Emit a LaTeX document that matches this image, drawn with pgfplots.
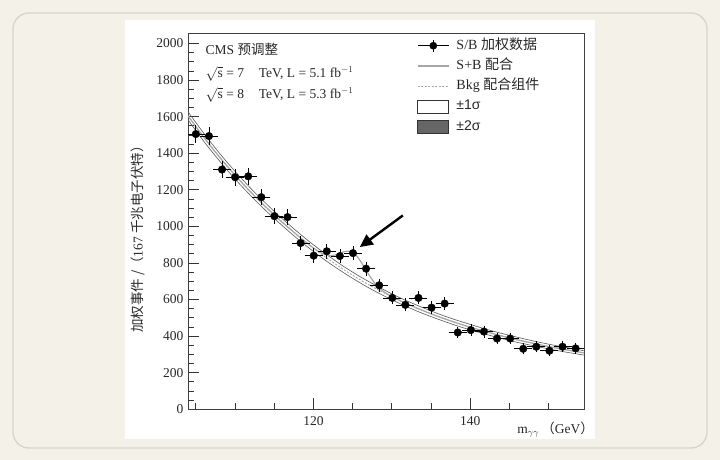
\documentclass[border=0pt]{standalone}
\usepackage{fontspec}
\setmainfont{Liberation Serif}
\newfontfamily\cjk{Noto Sans CJK SC}
\newfontfamily\sansf{Liberation Sans}
\usepackage{pgfplots}
\pgfplotsset{compat=1.18}
\usetikzlibrary{arrows.meta}
\definecolor{bgbeige}{RGB}{244,241,232}
\definecolor{frameline}{RGB}{216,212,200}
\definecolor{txt}{RGB}{40,40,40}
\begin{document}
\begin{tikzpicture}
\fill[bgbeige] (0pt,0pt) rectangle (720pt,460pt);
\draw[frameline, line width=1.3pt, rounded corners=16pt] (13pt,12pt) rectangle (707pt,447pt);
\fill[white] (125pt,21pt) rectangle (595pt,440pt);
\begin{axis}[at={(188pt,50.7pt)}, anchor=south west, scale only axis,
  width=396pt, height=376pt,
  xmin=104, xmax=154.5, ymin=0, ymax=2056,
  xtick={120,140}, minor xtick={105,110,115,125,130,135,145,150},
  ytick={0,200,...,2000}, minor y tick num=3,
  scaled y ticks=false,
  xtick pos=bottom, ytick pos=left, tick align=inside,
  major tick length=11pt, minor tick length=6pt,
  axis line style={black!75, line width=0.8pt},
  tick style={black!80, line width=0.8pt},
  tick label style={font=\fontsize{13.5}{15}\selectfont, text=txt},
  xticklabel style={yshift=-4pt},
  yticklabel style={xshift=-1pt},
  /pgf/number format/assume math mode=true,
  /pgf/number format/1000 sep={},
  legend style={at={(0.578,0.99)}, anchor=north west, draw=none, fill=none,
    font=\fontsize{14}{16}\selectfont, text=txt, inner sep=0pt, row sep=3.2pt,
    nodes={inner sep=2pt, text height=10pt, text depth=3pt}},
  legend cell align=left,
]
% legend
\addlegendimage{legend image code/.code={
  \draw[black, line width=0.8pt] (0pt,0pt) -- (31pt,0pt);
  \draw[black, line width=0.7pt] (15.5pt,-6pt) -- (15.5pt,6pt);
  \fill[black] (15.5pt,0pt) circle (3.6pt);}}
\addlegendentry{\hspace{5pt}S/B {\cjk 加权数据}}
\addlegendimage{legend image code/.code={
  \draw[gray!70, line width=1.4pt] (0pt,0pt) -- (31pt,0pt);}}
\addlegendentry{\hspace{5pt}S+B {\cjk 配合}}
\addlegendimage{legend image code/.code={
  \draw[gray!70, line width=1pt, dash pattern=on 2pt off 1.5pt] (0pt,0pt) -- (31pt,0pt);}}
\addlegendentry{\hspace{5pt}Bkg {\cjk 配合组件}}
\addlegendimage{legend image code/.code={
  \draw[black!80, fill=white, line width=0.7pt] (0pt,-6.5pt) rectangle (31pt,6.5pt);}}
\addlegendentry{\hspace{5pt}{\sansf ±1σ}}
\addlegendimage{legend image code/.code={
  \draw[black!80, fill=black!60, line width=0.7pt] (0pt,-6.5pt) rectangle (31pt,6.5pt);}}
\addlegendentry{\hspace{5pt}{\sansf ±2σ}}

% band edges
\addplot[forget plot, smooth, black!65, line width=0.6pt] coordinates {
(104,1627)(106,1510)(108,1401)(110,1301)(112,1208)(114,1123)(116,1043)(118,969)
(120,899)(122,836)(124,777)(126,724)(128,676)(130,631)(132,591)(134,555)(136,521)
(138,491)(140,464)(142,438)(144,415)(146,394)(148,374)(150,356)(152,340)(154,324)(154.5,320)};
\addplot[forget plot, smooth, black!65, line width=0.6pt] coordinates {
(104,1583)(106,1466)(108,1359)(110,1259)(112,1168)(114,1083)(116,1005)(118,931)
(120,863)(122,800)(124,743)(126,690)(128,642)(130,599)(132,559)(134,523)(136,491)
(138,461)(140,434)(142,410)(144,387)(146,366)(148,348)(150,330)(152,314)(154,300)(154.5,296)};
% background component
\addplot[forget plot, smooth, gray!70, line width=0.9pt, dash pattern=on 2pt off 1.5pt] coordinates {
(104,1605)(106,1488)(108,1380)(110,1280)(112,1188)(114,1103)(116,1024)(118,950)
(120,881)(122,818)(124,760)(126,707)(128,659)(130,615)(132,575)(134,539)(136,506)
(138,476)(140,449)(142,424)(144,401)(146,380)(148,361)(150,343)(152,327)(154,312)(154.5,308)};
% S+B fit
\addplot[forget plot, smooth, gray!70, line width=1.2pt] coordinates {
(104,1605)(106,1488)(108,1380)(110,1280)(112,1188)(114,1103)(116,1024)(118,950)
(120,882)(121,855)(122,840)(123,846)(123.5,855)(124,863)(124.5,865)(125,858)(125.5,839)
(126,810)(126.5,776)(127,740)(128,680)(129,642)(130,616)(131,595)(132,575)(134,539)(136,506)
(138,476)(140,449)(142,424)(144,401)(146,380)(148,361)(150,343)(152,327)(154,312)(154.5,308)};
% data
\addplot[forget plot, only marks, mark=*, mark size=3.8pt, black,
  error bars/.cd, x dir=both, x explicit, y dir=both, y explicit,
  error bar style={line width=0.7pt, black},
  error mark options={black, line width=0.7pt, mark size=2.5pt}]
  table[x=x, y=y, x error=ex, y error=ey] {
x y ex ey
105.00 1505 0.83 35
106.67 1494 0.83 35
108.34 1311 0.83 33
110.01 1269 0.83 32
111.68 1274 0.83 32
113.35 1160 0.83 31
115.02 1056 0.83 29
116.69 1051 0.83 29
118.36 909 0.83 27
120.03 840 0.83 26
121.70 864 0.83 26
123.37 838 0.83 26
125.04 854 0.83 26
126.71 769 0.83 25
128.38 678 0.83 23
130.05 609 0.83 22
131.72 571 0.83 22
133.39 609 0.83 22
135.06 556 0.83 21
136.73 578 0.83 22
138.40 420 0.83 19
140.07 433 0.83 19
141.74 425 0.83 19
143.41 387 0.83 18
145.08 387 0.83 18
146.75 331 0.83 17
148.42 342 0.83 17
150.09 320 0.83 16
151.76 342 0.83 17
153.43 333 0.83 17
};
\draw[-{Triangle[length=13pt,width=12pt]}, line width=2.4pt, black]
  (axis cs:131.4,1060) -- (axis cs:125.9,887);
\end{axis}
\begin{scope}[every node/.style={anchor=west, inner sep=0.5pt, text=txt, font=\fontsize{13.5}{15}\selectfont}]
\node at (205pt,411pt) {CMS {\cjk 预调整}};
\node at (205pt,386.5pt) {$\sqrt{\mathrm{s}}$ = 7\hspace{1.1em}TeV, L = 5.1 fb$^{-1}$};
\node at (205pt,365.5pt) {$\sqrt{\mathrm{s}}$ = 8\hspace{1.1em}TeV, L = 5.3 fb$^{-1}$};
\end{scope}
\node[rotate=90, text=txt, font=\fontsize{13.5}{15}\selectfont] at (138pt,224pt)
  {{\cjk 加权事件 /（}167 {\cjk 千兆电子伏特）}};
\node[anchor=east, inner sep=1pt, text=txt, font=\fontsize{13.5}{15}\selectfont] at (595pt,30pt)
  {m$_{\gamma\gamma}$\,{\cjk （}GeV{\cjk ）}};
\end{tikzpicture}
\end{document}
